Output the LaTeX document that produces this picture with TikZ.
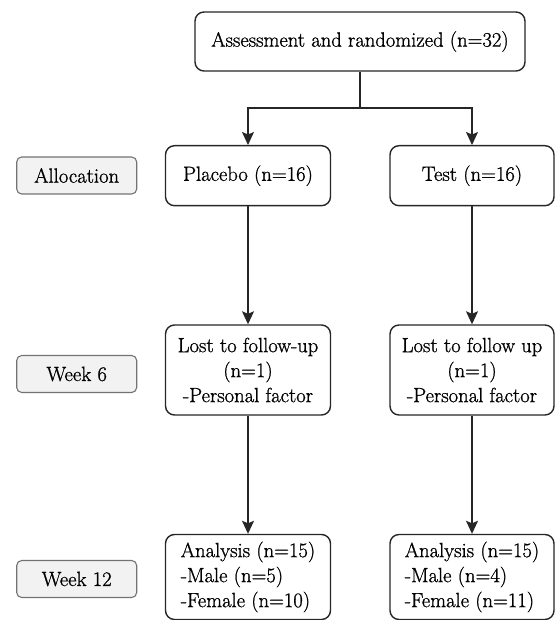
\documentclass[tikz,border=0pt]{standalone}
\usepackage{fontspec}
\setmainfont{Latin Modern Roman}[FakeBold=1]
\usetikzlibrary{arrows.meta}
\begin{document}
\begin{tikzpicture}[x=1pt,y=-1pt,
  every node/.style={font=\rmfamily\fontsize{20.6}{25}\selectfont, inner sep=0pt},
  mainbox/.style={draw=black!85, line width=1.4pt, rounded corners=9pt, fill=white, align=center},
  labelbox/.style={draw=black!55, line width=1.1pt, rounded corners=5pt, fill=black!5, minimum width=120pt, minimum height=37pt},
  arr/.style={draw=black!85, line width=1.4pt, -{Stealth[length=13pt,width=12pt,inset=2.5pt]}}
]
\useasboundingbox (0,0) rectangle (557,620);
\node[mainbox, minimum width=330pt, minimum height=59pt] (top) at (360,41.5) {Assessment and randomized (n=32)};
\node[mainbox, minimum width=165pt, minimum height=60pt] (plac) at (248,175.7) {Placebo (n=16)};
\node[mainbox, minimum width=164pt, minimum height=60pt] (test) at (472,175.7) {Test (n=16)};
\node[mainbox, minimum width=165pt, minimum height=90pt] (lost1) at (248,370) {Lost to follow-up\\(n=1)\\-Personal factor};
\node[mainbox, minimum width=164pt, minimum height=90pt] (lost2) at (472,370) {Lost to follow up\\(n=1)\\-Personal factor};
\node[mainbox, align=left, minimum width=165pt, minimum height=85pt] (ana1) at (248,577) {Analysis (n=15)\\-Male (n=5)\\-Female (n=10)};
\node[mainbox, align=left, minimum width=164pt, minimum height=85pt] (ana2) at (472,577) {Analysis (n=15)\\-Male (n=4)\\-Female (n=11)};
\node[labelbox] (alloc) at (76.7,175.5) {Allocation};
\node[labelbox] (w6) at (76.7,374) {Week 6};
\node[labelbox] (w12) at (76.7,579) {Week 12};
\coordinate (split) at (360,108);
\draw[line width=1.4pt, draw=black!85] (top.south) -- (split);
\draw[arr] (split) -| (plac.north);
\draw[arr] (split) -| (test.north);
\draw[arr] (plac.south) -- (lost1.north);
\draw[arr] (test.south) -- (lost2.north);
\draw[arr] (lost1.south) -- (ana1.north);
\draw[arr] (lost2.south) -- (ana2.north);
\end{tikzpicture}
\end{document}
